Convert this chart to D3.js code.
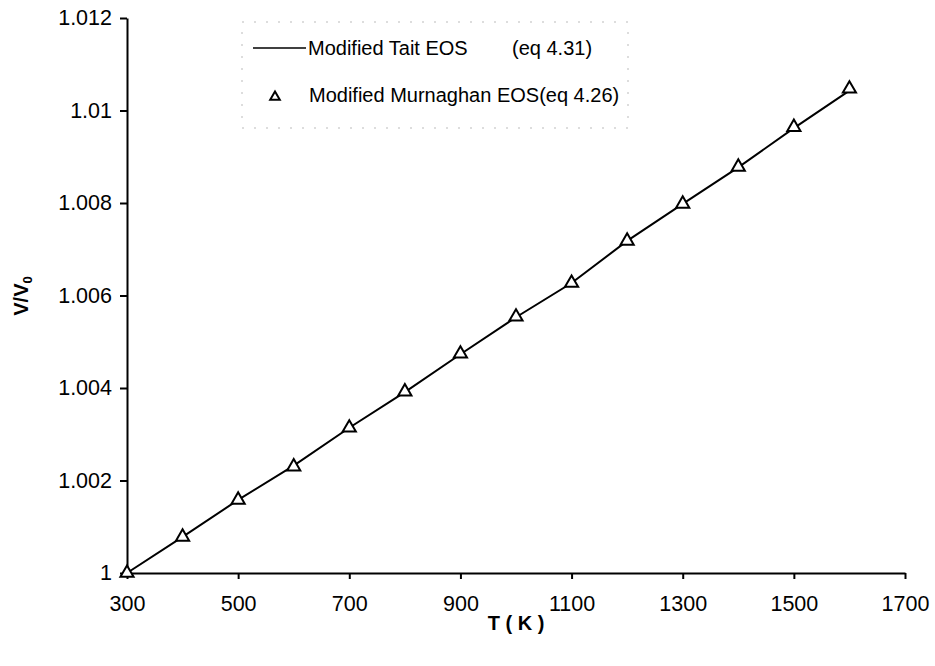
<!DOCTYPE html>
<html><head><meta charset="utf-8">
<script src="https://cdn.jsdelivr.net/npm/d3@7"></script>
<style>body{margin:0;background:#fff}svg{display:block}text{font-family:"Liberation Sans",Arial,sans-serif;fill:#000}</style>
</head><body>
<svg id="c" width="935" height="666"></svg>
<script>
const temps = [300,400,500,600,700,800,900,1000,1100,1200,1300,1400,1500,1600];
const taitValues = [1.0000,1.00078,1.00158,1.00232,1.00314,1.00391,1.00473,1.00553,1.00627,1.00718,1.00798,1.00877,1.00962,1.01043];
const murnaghanValues = [1.0000,1.00078,1.00158,1.00230,1.00314,1.00392,1.00474,1.00554,1.00627,1.00718,1.00798,1.00878,1.00964,1.01047];
const xTicks = [300,500,700,900,1100,1300,1500,1700];
const yTicks = [1,1.002,1.004,1.006,1.008,1.01,1.012];
const yTickLabels = ["1","1.002","1.004","1.006","1.008","1.01","1.012"];
const legendLabels = ["Modified Tait EOS", "(eq 4.31)", "Modified Murnaghan EOS(eq 4.26)"];

const svg = d3.select("#c");
const x = d3.scaleLinear().domain([300,1700]).range([127,905]);
const y = d3.scaleLinear().domain([1,1.012]).range([573,18]);

const xa = svg.append("g").attr("transform","translate(0,573)")
  .call(d3.axisBottom(x).tickValues(xTicks).tickSize(6).tickSizeOuter(0).tickPadding(17).tickFormat(d3.format("d")));
const ya = svg.append("g").attr("transform","translate(127,0)")
  .call(d3.axisLeft(y).tickValues(yTicks).tickSize(7).tickSizeOuter(0).tickPadding(8).tickFormat((d,i)=>yTickLabels[i]));
[xa,ya].forEach(g=>{
  g.selectAll("path").attr("stroke","#000").attr("stroke-width",2);
  g.selectAll("line").attr("stroke","#000").attr("stroke-width",2);
  g.selectAll("text").attr("font-size",21.5).attr("font-family","Liberation Sans, Arial, sans-serif").attr("fill","#000");
});

// data line
const line = d3.line().x((d,i)=>x(temps[i])).y(d=>y(d));
svg.append("path").datum(taitValues).attr("d",line).attr("fill","none").attr("stroke","#000").attr("stroke-width",2);

const tri = d3.symbol().type(d3.symbolTriangle).size(75);
svg.selectAll(".pt").data(murnaghanValues).enter().append("path")
  .attr("class","pt")
  .attr("transform",(d,i)=>`translate(${x(temps[i])},${y(d)})`)
  .attr("d",tri).attr("fill","#fff").attr("stroke","#000").attr("stroke-width",2);

// legend box (faint dotted)
svg.append("rect").attr("x",242).attr("y",22).attr("width",386).attr("height",106)
  .attr("fill","none").attr("stroke","#bbb").attr("stroke-width",1).attr("stroke-dasharray","2,10");
svg.append("line").attr("x1",253).attr("x2",306).attr("y1",48).attr("y2",48).attr("stroke","#000").attr("stroke-width",1.5);
svg.append("text").attr("x",308).attr("y",55).attr("font-size",20).text(legendLabels[0]);
svg.append("text").attr("x",512).attr("y",55).attr("font-size",20).text(legendLabels[1]);
svg.append("path").attr("transform","translate(275,97)").attr("d",d3.symbol().type(d3.symbolTriangle).size(40)())
  .attr("fill","#fff").attr("stroke","#000").attr("stroke-width",2);
svg.append("text").attr("x",309).attr("y",102).attr("font-size",20).text(legendLabels[2]);

// axis titles
svg.append("text").attr("x",516).attr("y",630).attr("text-anchor","middle").attr("font-size",20).attr("font-weight","bold").text("T ( K )");
const yl = svg.append("text").attr("transform","translate(28,296) rotate(-90)").attr("text-anchor","middle").attr("font-size",20).attr("font-weight","bold");
yl.append("tspan").text("V/V");
yl.append("tspan").attr("font-size",13).attr("dy",4).text("0");
</script>
</body></html>
